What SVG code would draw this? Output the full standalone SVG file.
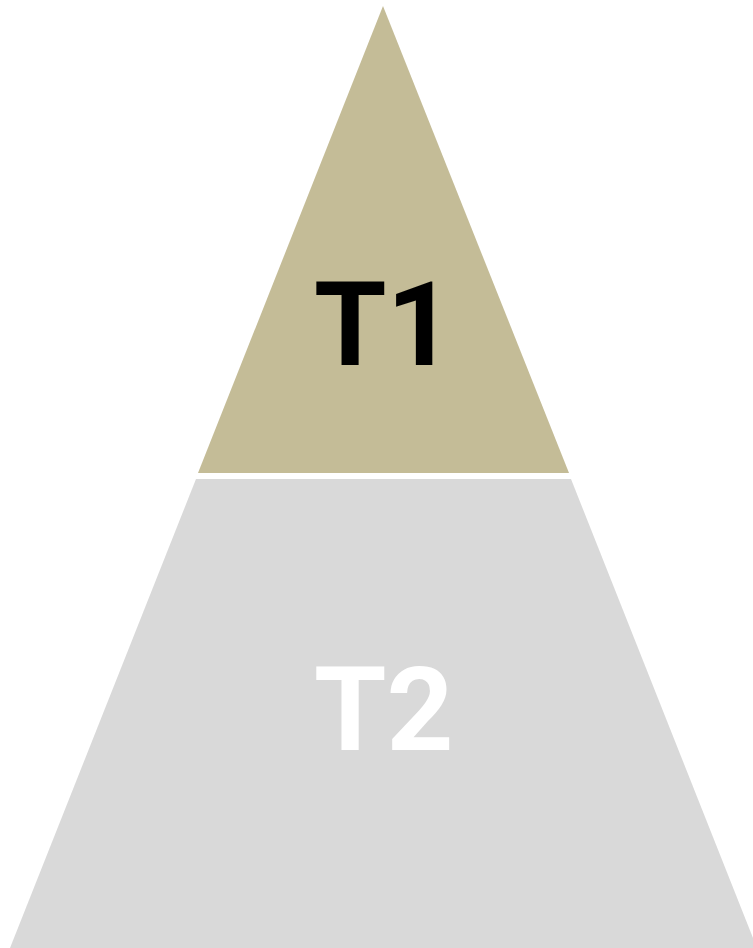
<svg xmlns="http://www.w3.org/2000/svg" width="753" height="948" viewBox="0 0 753 948">
<style>
.lbl{font-family:Roboto,"Liberation Sans",Arial,sans-serif;font-weight:bold;font-size:117px}
</style>
<rect width="753" height="948" fill="#ffffff"/>
<g id="t1">
<polygon points="383,6 569,473 198,473" fill="#c4bc97"/>
<text class="lbl" x="314" y="365" fill="#000000">T1</text>
</g>
<g id="t2">
<polygon points="196,479 571,479 757,948 10,948" fill="#d9d9d9"/>
<text class="lbl" x="314" y="750" fill="#ffffff">T2</text>
</g>
<g id="connectors"/>
</svg>
